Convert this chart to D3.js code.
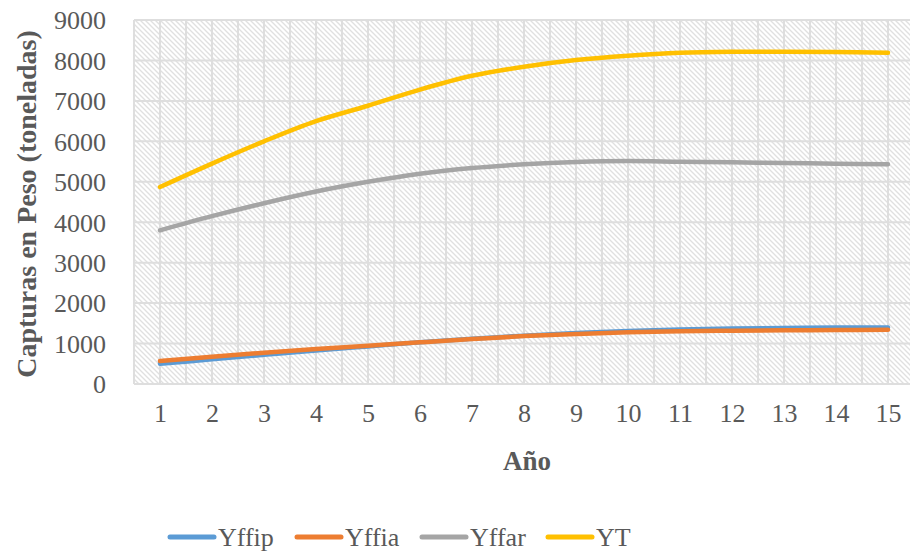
<!DOCTYPE html>
<html>
<head>
<meta charset="utf-8">
<script src="https://cdn.jsdelivr.net/npm/d3@7"></script>
<style>
  html, body { margin: 0; padding: 0; background: #fff; }
  svg { display: block; }
  text { font-family: "Liberation Serif", "Times New Roman", serif; fill: #595959; }
</style>
</head>
<body>
<svg id="chart" width="910" height="554"></svg>
<script>
// Catch by year (tonnes)
const years = [1, 2, 3, 4, 5, 6, 7, 8, 9, 10, 11, 12, 13, 14, 15];
const yffip = [500, 610, 720, 830, 930, 1030, 1120, 1195, 1260, 1310, 1345, 1370, 1385, 1400, 1395];
const yffia = [570, 676, 775, 865, 948, 1030, 1110, 1185, 1236, 1277, 1302, 1319, 1327, 1335, 1340];
const yffar = [3800, 4150, 4470, 4760, 5000, 5200, 5340, 5432, 5490, 5514, 5497, 5480, 5465, 5448, 5435];
const yt    = [4870, 5450, 6000, 6500, 6880, 7280, 7620, 7845, 8010, 8118, 8190, 8215, 8215, 8210, 8190];
const yTicks = [0, 1000, 2000, 3000, 4000, 5000, 6000, 7000, 8000, 9000];

const seriesNames  = ["Yffip", "Yffia", "Yffar", "YT"];
const seriesValues = [yffip, yffia, yffar, yt];
const seriesColors = ["#5B9BD5", "#ED7D31", "#A5A5A5", "#FFC000"];

const svg = d3.select("#chart");

const plot = { left: 134, top: 20, right: 914, bottom: 384 };
const x = d3.scaleLinear().domain([0.5, 15.5]).range([plot.left, plot.right]);
const y = d3.scaleLinear().domain([0, 9000]).range([plot.bottom, plot.top]);

// Downward-diagonal hatch fill for the plot area
const defs = svg.append("defs");
const pat = defs.append("pattern")
  .attr("id", "hatch")
  .attr("patternUnits", "userSpaceOnUse")
  .attr("width", 5).attr("height", 5);
pat.append("rect").attr("width", 5).attr("height", 5).attr("fill", "#ffffff");
pat.append("path")
  .attr("d", "M-1,-1 L6,6 M-1,4 L1,6 M4,-1 L6,1")
  .attr("stroke", "#e0e0e0").attr("stroke-width", 1.3);

svg.append("rect")
  .attr("x", plot.left).attr("y", plot.top)
  .attr("width", plot.right - plot.left).attr("height", plot.bottom - plot.top)
  .attr("fill", "url(#hatch)");

// Gridlines
const grid = svg.append("g").attr("stroke", "#dedede").attr("stroke-width", 2);
grid.selectAll("line.h").data(yTicks).join("line")
  .attr("class", "h")
  .attr("x1", plot.left).attr("x2", plot.right)
  .attr("y1", d => y(d)).attr("y2", d => y(d));
const vPos = d3.range(0.5, 15.51, 0.5);
grid.selectAll("line.v").data(vPos).join("line")
  .attr("class", "v")
  .attr("x1", d => x(d)).attr("x2", d => x(d))
  .attr("y1", plot.top).attr("y2", plot.bottom);

// Axes
const yAxis = svg.append("g")
  .attr("transform", `translate(${plot.left - 28},0)`)
  .call(d3.axisLeft(y).tickValues(yTicks).tickSize(0).tickPadding(0).tickFormat(d3.format("d")));
yAxis.select(".domain").remove();
yAxis.selectAll("text")
  .style("font-family", '"Liberation Serif", serif')
  .style("font-size", "26px").attr("fill", "#595959").attr("dy", "0.34em");

const xAxis = svg.append("g")
  .attr("transform", `translate(0,${plot.bottom})`)
  .call(d3.axisBottom(x).tickValues(years).tickSize(0).tickPadding(0).tickFormat(d3.format("d")));
xAxis.select(".domain").remove();
xAxis.selectAll("text")
  .style("font-family", '"Liberation Serif", serif')
  .style("font-size", "26px").attr("fill", "#595959")
  .attr("y", 38).attr("dy", 0);

// Axis titles
svg.append("text")
  .attr("transform", `translate(36,${(plot.top + plot.bottom) / 2 + 2}) rotate(-90)`)
  .attr("text-anchor", "middle")
  .style("font-size", "28px").style("font-weight", "bold")
  .text("Capturas en Peso (toneladas)");

svg.append("text")
  .attr("x", 527).attr("y", 470)
  .attr("text-anchor", "middle")
  .style("font-size", "27px").style("font-weight", "bold")
  .text("Año");

// Series lines
const line = d3.line()
  .x((d, i) => x(years[i]))
  .y(d => y(d))
  .curve(d3.curveCatmullRom.alpha(0.5));

svg.append("g").selectAll("path").data(seriesValues).join("path")
  .attr("d", d => line(d))
  .attr("fill", "none")
  .attr("stroke", (d, i) => seriesColors[i])
  .attr("stroke-width", 4.5)
  .attr("stroke-linecap", "round")
  .attr("stroke-linejoin", "round");

// Legend
const legendX = [170, 297, 422, 548];
const legend = svg.append("g");
const items = legend.selectAll("g").data(seriesNames).join("g")
  .attr("transform", (d, i) => `translate(${legendX[i]},537)`);
items.append("line")
  .attr("x1", 0).attr("x2", 44).attr("y1", 0).attr("y2", 0)
  .attr("stroke", (d, i) => seriesColors[i])
  .attr("stroke-width", 5).attr("stroke-linecap", "round");
items.append("text")
  .attr("x", 48).attr("y", 9)
  .style("font-size", "26px")
  .text(d => d);
</script>
</body>
</html>
